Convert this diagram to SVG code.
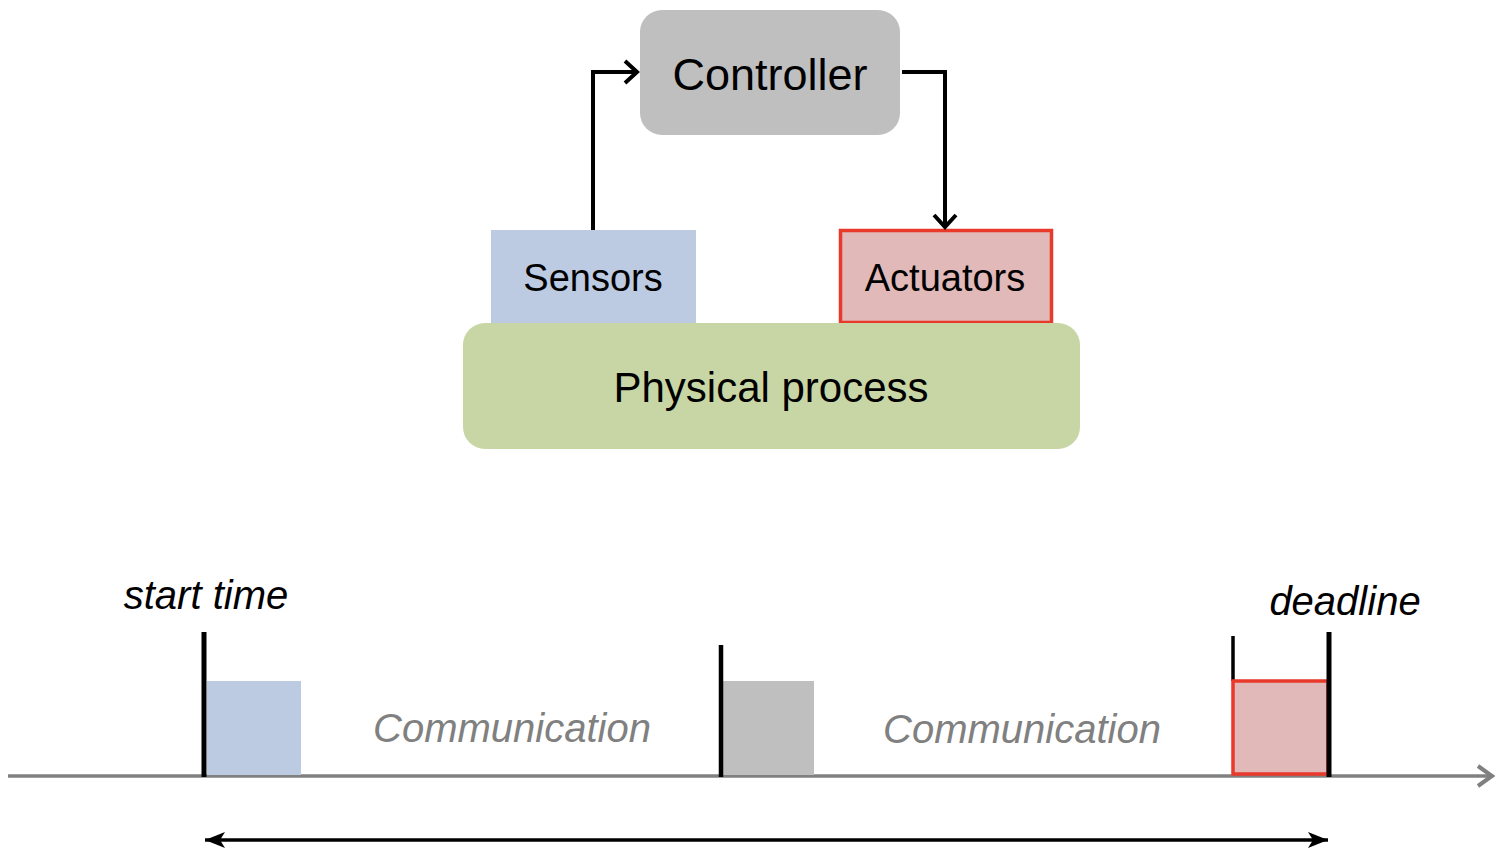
<svg xmlns="http://www.w3.org/2000/svg" width="1506" height="866" viewBox="0 0 1506 866">
<defs>
<style>
.lbl{font-family:"Liberation Sans",Arial,sans-serif;fill:#000;text-anchor:middle}
.it{font-family:"Liberation Sans",Arial,sans-serif;font-style:italic;text-anchor:middle}
.conn{fill:none;stroke:#000;stroke-width:4}
.bar{stroke:#000;stroke-linecap:butt}
</style>
<marker id="chev" markerWidth="24" markerHeight="28" refX="18" refY="14" orient="auto" markerUnits="userSpaceOnUse">
<path d="M6,3 L18,14 L6,25" fill="none" stroke="#000" stroke-width="4"/>
</marker>
<marker id="chevGray" markerWidth="24" markerHeight="26" refX="18" refY="13" orient="auto" markerUnits="userSpaceOnUse">
<path d="M4,3 L18,13 L4,23" fill="none" stroke="#808080" stroke-width="4"/>
</marker>
<marker id="tri" markerWidth="22" markerHeight="18" refX="20" refY="9" orient="auto-start-reverse" markerUnits="userSpaceOnUse">
<path d="M0,1 L20,9 L0,17 L5,9 Z" fill="#000"/>
</marker>
</defs>
<rect width="1506" height="866" fill="#fff"/>

<g id="controller">
<rect x="640" y="10" width="260" height="125" rx="22" fill="#bfbfbf"/>
<text class="lbl" x="770" y="90" font-size="45">Controller</text>
</g>
<g id="sensors">
<rect x="491" y="230" width="205" height="94" fill="#bccbe2"/>
<text class="lbl" x="593" y="291" font-size="38">Sensors</text>
</g>
<g id="actuators">
<rect x="840.5" y="230.5" width="211" height="92" fill="#e0b9b8" stroke="#e8392b" stroke-width="3.5"/>
<text class="lbl" x="945" y="291" font-size="38">Actuators</text>
</g>
<g id="physical-process">
<rect x="463" y="323" width="617" height="126" rx="22" fill="#c8d6a5"/>
<text class="lbl" x="771" y="402" font-size="42">Physical process</text>
</g>

<g id="connectors">
<path class="conn" d="M593,230 V72 H637" marker-end="url(#chev)"/>
<path class="conn" d="M902,72 H945 V227" marker-end="url(#chev)"/>
</g>

<g id="timeline">
<line x1="8" y1="776" x2="1492" y2="776" stroke="#808080" stroke-width="3.5" marker-end="url(#chevGray)"/>
<rect x="207" y="681" width="94" height="94" fill="#bccbe2"/>
<line class="bar" x1="204" y1="632" x2="204" y2="777" stroke-width="5"/>
<rect x="723" y="681" width="91" height="94" fill="#bfbfbf"/>
<line class="bar" x1="721" y1="645" x2="721" y2="777" stroke-width="4.5"/>
<line class="bar" x1="1233" y1="636" x2="1233" y2="681" stroke-width="3.5"/>
<rect x="1233" y="681" width="95" height="93" fill="#e0b9b8" stroke="#e8392b" stroke-width="3.5"/>
<line class="bar" x1="1329" y1="632" x2="1329" y2="777" stroke-width="5"/>
<text class="it" x="206" y="609" font-size="40" fill="#000">start time</text>
<text class="it" x="1345" y="615" font-size="40" fill="#000">deadline</text>
<text class="it" x="512" y="742" font-size="40" fill="#808080">Communication</text>
<text class="it" x="1022" y="743" font-size="40" fill="#808080">Communication</text>
<line x1="205" y1="840" x2="1328" y2="840" stroke="#000" stroke-width="3.5" marker-start="url(#tri)" marker-end="url(#tri)"/>
</g>
</svg>
